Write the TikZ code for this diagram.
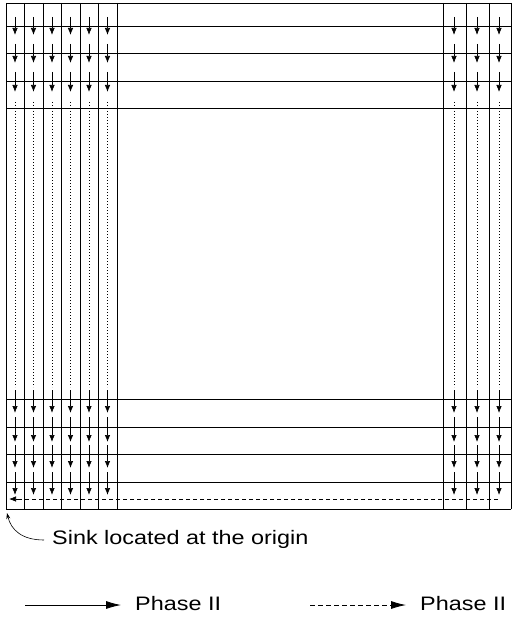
\documentclass[tikz,border=0pt]{standalone}
\usepackage{fontspec}
\setmainfont{Liberation Sans}
\newfontfamily\labelfont[FakeStretch=1.2]{Liberation Sans}
\usetikzlibrary{arrows.meta}

\begin{document}
\begin{tikzpicture}[x=1pt, y=-1pt,
    gridline/.style={line width=0.9pt},
    flow/.style={line width=0.7pt, -{Latex[length=7pt,width=5.5pt]}},
    idle/.style={line width=0.7pt, dash pattern=on 0.8pt off 2.2pt},
    sweep/.style={line width=0.7pt, dash pattern=on 4pt off 3pt},
    legtip/.style={line width=0.8pt, -{Latex[length=15pt,width=8pt]}},
    lbl/.style={font=\labelfont\fontsize{19.5}{22}\selectfont, inner sep=0pt, anchor=west}]
    \useasboundingbox (0,0) rectangle (512,623);

    % Grid
    \foreach \y in {3,26,53.5,81,108,399,427,454,482,509}
        \draw[gridline] (6,\y) -- (511,\y);
    \foreach \x in {6,24.5,43,61.5,80,98.5,117,443,466,489,511}
        \draw[gridline] (\x,3) -- (\x,509);

    % Phase I: flow down each column
    \foreach \x in {15,33.5,52,70.5,89,107.5,454,477,499} {
        \foreach \a/\b in {17/35,44/63,72/92,390/413,417/442,445/468,472/495}
            \draw[flow] (\x,\a) -- (\x,\b);
        \draw[idle] (\x,102) -- (\x,387);
    }

    % Phase II: sweep along the bottom row to the sink
    \coordinate (rowend) at (498,499);
    \coordinate (rowturn) at (20,499);
    \coordinate (origin) at (9,499);
    \draw[sweep] (rowend) -- (rowturn);
    \draw[flow] (rowturn) -- (origin);

    % Sink note
    \coordinate (sink) at (7,513);
    \node[lbl] (sinklbl) at (52,539) {Sink located at the origin};
    \coordinate (sinktail) at (44,540);
    \draw[line width=0.6pt, -{Stealth[length=6pt,width=4pt]}] (sinktail) .. controls (22,540) and (11,530) .. (sink);

    % Legend
    \coordinate (solidfrom) at (25,605);
    \coordinate (solidto) at (121,605);
    \node[lbl] (solidlbl) at (135,604) {Phase II};
    \draw[legtip] (solidfrom) -- (solidto);

    \coordinate (dashfrom) at (310,605);
    \coordinate (dashto) at (406,605);
    \node[lbl] (dashlbl) at (420,604) {Phase II};
    \draw[legtip, dash pattern=on 5pt off 3pt] (dashfrom) -- (dashto);
\end{tikzpicture}
\end{document}
